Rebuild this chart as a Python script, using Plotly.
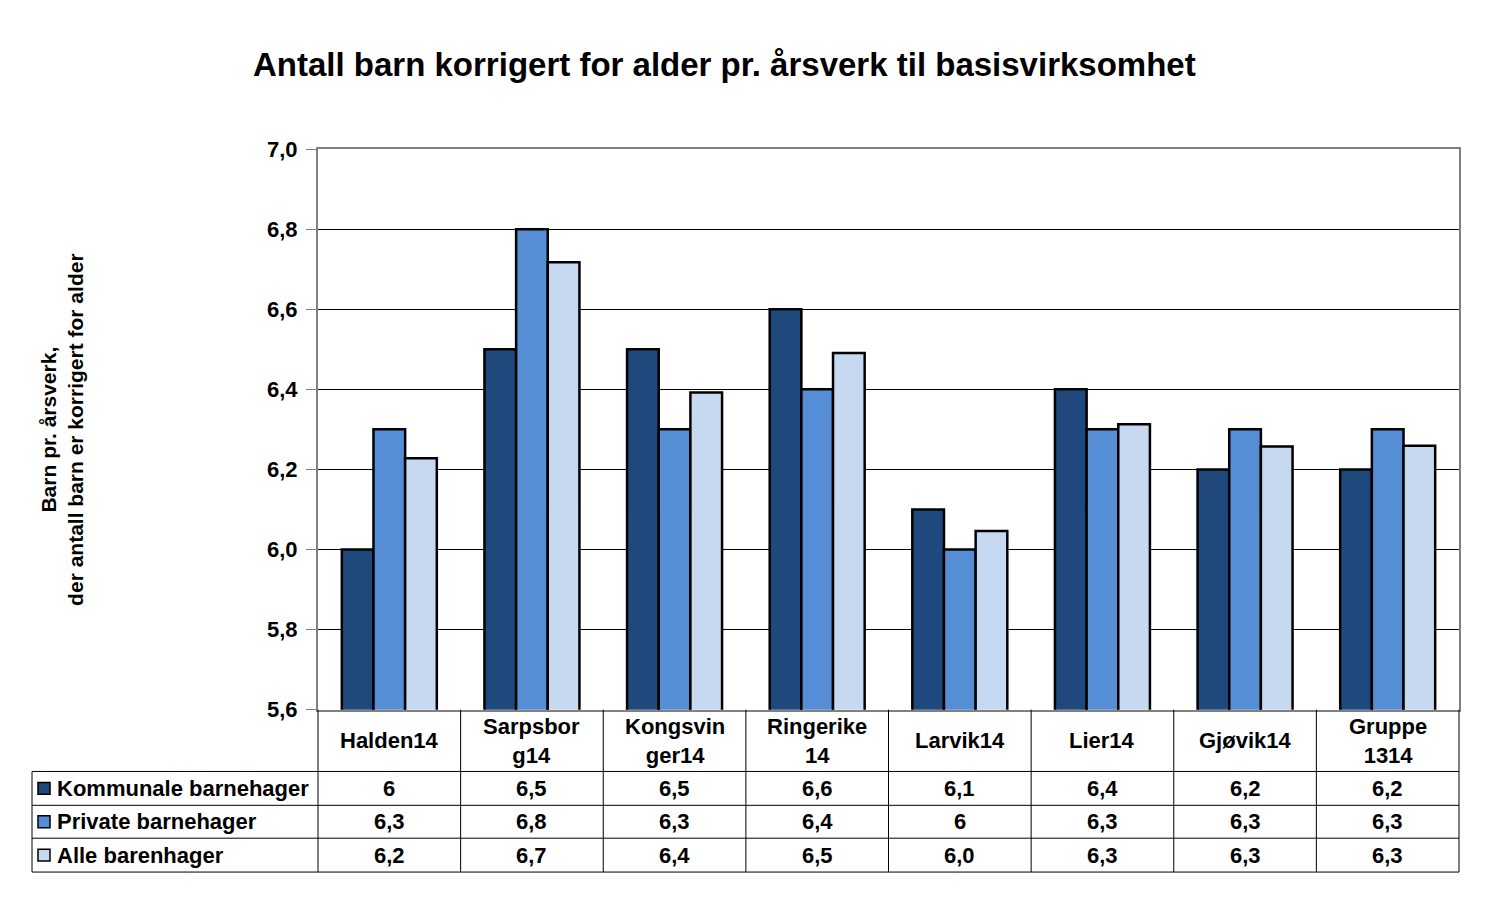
import plotly.graph_objects as go

# ---------------- data ----------------
categories = ["Halden14", "Sarpsborg14", "Kongsvinger14", "Ringerike14",
              "Larvik14", "Lier14", "Gjøvik14", "Gruppe1314"]
header_labels = ["Halden14", "Sarpsbor<br>g14", "Kongsvin<br>ger14", "Ringerike<br>14",
                 "Larvik14", "Lier14", "Gjøvik14", "Gruppe<br>1314"]
series_names = ["Kommunale barnehager", "Private barnehager", "Alle barenhager"]
kommunale = [6.0, 6.5, 6.5, 6.6, 6.1, 6.4, 6.2, 6.2]
private = [6.3, 6.8, 6.3, 6.4, 6.0, 6.3, 6.3, 6.3]
alle = [6.228, 6.717, 6.392, 6.491, 6.046, 6.313, 6.257, 6.259]
y_ticks = [5.6, 5.8, 6.0, 6.2, 6.4, 6.6, 6.8, 7.0]

title = "Antall barn korrigert for alder pr. årsverk til basisvirksomhet"
y_title = "Barn pr. årsverk,<br>der antall barn er korrigert for alder"

colors = ["#1F497D", "#558ED5", "#C6D9F1"]


def fmt_general(v):
    return ("%g" % v).replace(".", ",")


def fmt_one(v):
    return ("%.1f" % v).replace(".", ",")


table_rows = [
    [fmt_general(v) for v in kommunale],
    [fmt_general(v) for v in private],
    [fmt_one(v) for v in alle],
]

# ---------------- layout geometry ----------------
W, H = 1495, 922
FONT = "Liberation Sans"
# observed vertical mapping of the rendered paper: top offset / effective height
PAPER_TOP, PAPER_H = 10.4, 900.7


def px(x):
    return x / W


def py(y):
    return 1 - (y - PAPER_TOP) / PAPER_H


X0, X1 = 318, 1459      # plot area left/right
YT, YB = 148, 711       # plot area top/bottom
LEG_L = 32
row_edges = [711, 773, 807, 840, 874]

fig = go.Figure()
for name, vals, c in zip(series_names, [kommunale, private, alle], colors):
    fig.add_trace(go.Bar(
        x=categories, y=vals, name=name,
        marker=dict(color=c, line=dict(color="black", width=2.5)),
        showlegend=False,
    ))

shapes = []
annotations = []

ncol = len(categories)
colw = (X1 - X0) / ncol
col_edges = [X0 + i * colw for i in range(ncol + 1)]

# vertical table lines
for xe in col_edges:
    shapes.append(dict(type="line", xref="paper", yref="paper",
                       x0=px(xe), x1=px(xe), y0=py(row_edges[0]), y1=py(row_edges[-1]),
                       line=dict(color="black", width=1)))
shapes.append(dict(type="line", xref="paper", yref="paper",
                   x0=px(LEG_L), x1=px(LEG_L), y0=py(row_edges[1]), y1=py(row_edges[-1]),
                   line=dict(color="black", width=1)))
# horizontal table lines
for ye in row_edges[1:]:
    shapes.append(dict(type="line", xref="paper", yref="paper",
                       x0=px(LEG_L), x1=px(X1), y0=py(ye), y1=py(ye),
                       line=dict(color="black", width=1)))

TFONT = dict(family=FONT, size=22, color="black", weight="bold")

# header labels
for i, lab in enumerate(header_labels):
    annotations.append(dict(xref="paper", yref="paper",
                            x=px(col_edges[i] + colw / 2), y=py((row_edges[0] + row_edges[1]) / 2),
                            text=lab, showarrow=False, xanchor="center", yanchor="middle",
                            font=TFONT))

# data rows + legend keys
for r in range(3):
    yc = (row_edges[r + 1] + row_edges[r + 2]) / 2
    for i, txt in enumerate(table_rows[r]):
        annotations.append(dict(xref="paper", yref="paper",
                                x=px(col_edges[i] + colw / 2), y=py(yc),
                                text=txt, showarrow=False, xanchor="center", yanchor="middle",
                                font=TFONT))
    shapes.append(dict(type="rect", xref="paper", yref="paper",
                       x0=px(38), x1=px(50), y0=py(yc + 6), y1=py(yc - 6),
                       fillcolor=colors[r], line=dict(color="black", width=1.5)))
    annotations.append(dict(xref="paper", yref="paper",
                            x=px(55), y=py(yc), text=series_names[r],
                            showarrow=False, xanchor="left", yanchor="middle",
                            font=TFONT))

# title
annotations.append(dict(xref="paper", yref="paper", x=px(724), y=py(63),
                        text=title, showarrow=False, xanchor="center", yanchor="middle",
                        font=dict(family=FONT, size=33, color="black", weight="bold")))
# y-axis title
annotations.append(dict(xref="paper", yref="paper", x=px(62), y=py(430),
                        text=y_title, showarrow=False, xanchor="center", yanchor="middle",
                        textangle=-90,
                        font=dict(family=FONT, size=21, color="black", weight="bold")))

fig.update_layout(
    width=W, height=H, autosize=False,
    margin=dict(l=0, r=0, t=0, b=0),
    paper_bgcolor="white", plot_bgcolor="white",
    separators=",.",
    barmode="group", bargap=0.334, bargroupgap=0,
    shapes=shapes, annotations=annotations,
    xaxis=dict(domain=[px(X0), px(X1)], showticklabels=False, ticks="",
               showline=True, linecolor="#808080", linewidth=2, mirror=True,
               showgrid=False, zeroline=False, fixedrange=True),
    yaxis=dict(domain=[py(YB), py(YT)], range=[5.6, 7.0], tickvals=y_ticks,
               tickformat=".1f", ticks="outside", ticklen=10, tickcolor="#808080",
               ticklabelstandoff=4,
               showline=True, linecolor="#808080", linewidth=2, mirror=True,
               showgrid=True, gridcolor="black", gridwidth=1, zeroline=False,
               tickfont=dict(family=FONT, size=22, color="black", weight="bold"),
               fixedrange=True),
)

fig.write_html("out.html")
